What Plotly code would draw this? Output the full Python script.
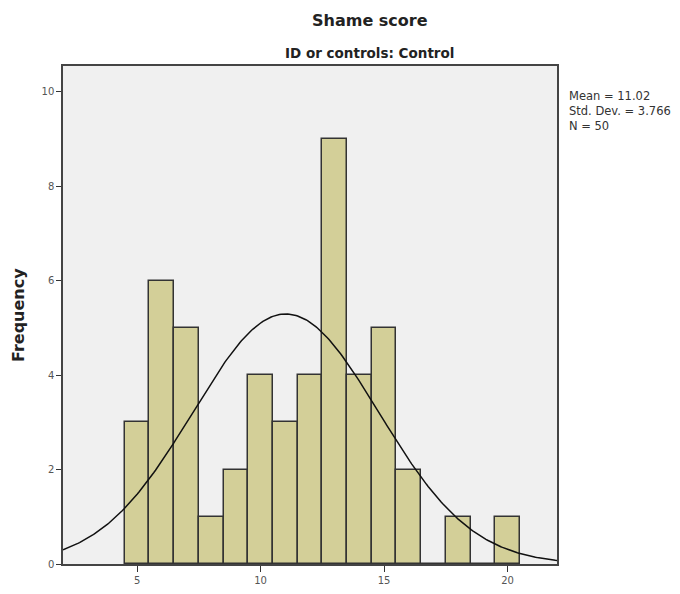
import numpy as np
import plotly.graph_objects as go

# Histogram data (bin centres, width 1)
bin_centers = [5, 6, 7, 8, 9, 10, 11, 12, 13, 14, 15, 16, 17, 18, 19, 20]
counts = [3, 6, 5, 1, 2, 4, 3, 4, 9, 4, 5, 2, 0, 1, 0, 1]
mean_val = 11.02
sd_val = 3.766
n_val = 50
bin_width = 1

x_ticks = [5, 10, 15, 20]
y_ticks = [0, 2, 4, 6, 8, 10]

fig = go.Figure()
fig.add_trace(go.Bar(
    x=bin_centers, y=counts, width=bin_width,
    marker=dict(color="#d3cf98", line=dict(color="#333333", width=1.5)),
    showlegend=False, hoverinfo="x+y"))

xs = np.linspace(2, 22, 300)
ys = n_val * bin_width / (sd_val * np.sqrt(2 * np.pi)) * np.exp(-0.5 * ((xs - mean_val) / sd_val) ** 2)
fig.add_trace(go.Scatter(x=xs, y=ys, mode="lines", line=dict(color="#111111", width=1.5),
                         showlegend=False, hoverinfo="skip"))

fig.update_layout(
    width=672, height=586,
    margin=dict(l=55, r=123, t=58, b=30, autoexpand=False),
    paper_bgcolor="white", plot_bgcolor="#f0f0f0",
    font=dict(family="DejaVu Sans", color="#333333"),
    bargap=0,
    xaxis=dict(range=[2, 22], tickvals=x_ticks, ticks="outside", ticklen=6, tickcolor="#333",
               showgrid=False, zeroline=False, showline=True, linecolor="#444", linewidth=1.5,
               mirror=True, tickfont=dict(size=10, color="#555"), automargin=False),
    yaxis=dict(range=[0, 10.55], tickvals=y_ticks, ticks="outside", ticklen=5, tickcolor="#333",
               showgrid=False, zeroline=False, showline=True, linecolor="#444", linewidth=1.5,
               mirror=True, tickfont=dict(size=10, color="#555"), automargin=False),
    annotations=[
        dict(text="<b>Shame score</b>", xref="paper", yref="paper", x=0.621, y=1,
             yshift=46, xanchor="center", yanchor="middle", showarrow=False,
             font=dict(size=16, color="#222")),
        dict(text="<b>ID or controls: Control</b>", xref="paper", yref="paper", x=0.621, y=1,
             yshift=13, xanchor="center", yanchor="middle", showarrow=False,
             font=dict(size=13.5, color="#222")),
        dict(text="<b>Frequency</b>", xref="paper", yref="paper", x=0, y=0.5,
             xshift=-45, xanchor="center", yanchor="middle", textangle=-90, showarrow=False,
             font=dict(size=16, color="#222")),
        dict(text="Mean = %.2f<br>Std. Dev. = %.3f<br>N = %d" % (mean_val, sd_val, n_val),
             xref="paper", yref="paper", x=1, y=1, xshift=10, yshift=-21,
             xanchor="left", yanchor="top", align="left", showarrow=False,
             font=dict(size=11.5, color="#333")),
    ],
)

fig.write_html("out.html")
